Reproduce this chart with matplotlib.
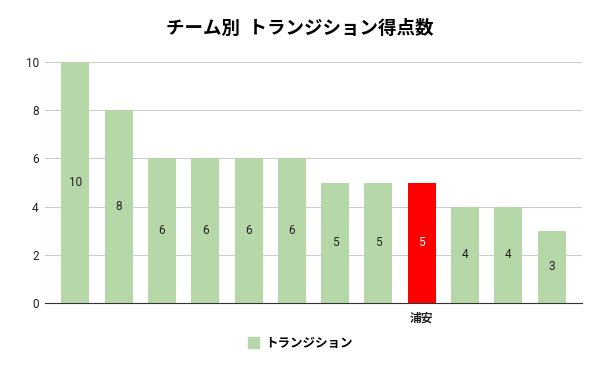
import matplotlib.pyplot as plt

plt.rcParams['font.family'] = ['Roboto', 'Noto Sans CJK JP', 'DejaVu Sans']

# チーム別 トランジション得点数
teams = ['', '', '', '', '', '', '', '', '浦安', '', '', '']
points = [10, 8, 6, 6, 6, 6, 5, 5, 5, 4, 4, 3]
highlight = '浦安'

green = '#b6d7a8'
red = '#ff0000'
colors = [red if t == highlight else green for t in teams]

fig = plt.figure(figsize=(6, 3.71), dpi=100)
ax = fig.add_axes([0.075, 0.183, 0.895, 0.65])

x = range(len(points))
bars = ax.bar(x, points, width=0.645, color=colors, zorder=2, label='トランジション')

for b, v, c in zip(bars, points, colors):
    ax.text(b.get_x() + b.get_width() / 2, v / 2, str(v), ha='center', va='center',
            fontsize=8.5, color='white' if c == red else '#222222', zorder=3)

ax.set_xlim(-0.7, len(points) - 0.3)
ax.set_ylim(0, 10)
ax.set_yticks([0, 2, 4, 6, 8, 10])
ax.set_xticks(list(x))
ax.set_xticklabels(teams, fontsize=8.5, fontweight='bold', family=['Noto Sans CJK JP'])
ax.tick_params(axis='both', length=0, labelsize=8.5, colors='#222222')
ax.tick_params(axis='y', pad=4.5)
ax.tick_params(axis='x', pad=6)
ax.grid(axis='y', color='#cccccc', linewidth=0.8, zorder=0)
for s in ['top', 'right', 'left']:
    ax.spines[s].set_visible(False)
ax.spines['bottom'].set_color('#333333')
ax.spines['bottom'].set_zorder(3)

fig.suptitle('チーム別  トランジション得点数', x=0.5, y=0.95, fontsize=13.3,
             fontweight='bold', family=['Noto Sans CJK JP'])

leg = fig.legend(handles=[bars], labels=['トランジション'], loc='center',
                 bbox_to_anchor=(0.5, 0.075), frameon=False, handlelength=0.9,
                 handleheight=0.9, handletextpad=0.5,
                 prop={'family': 'Noto Sans CJK JP', 'size': 9, 'weight': 'bold'})
leg.legend_handles[0].set_color(green)

fig.savefig('out.png', dpi=100)
